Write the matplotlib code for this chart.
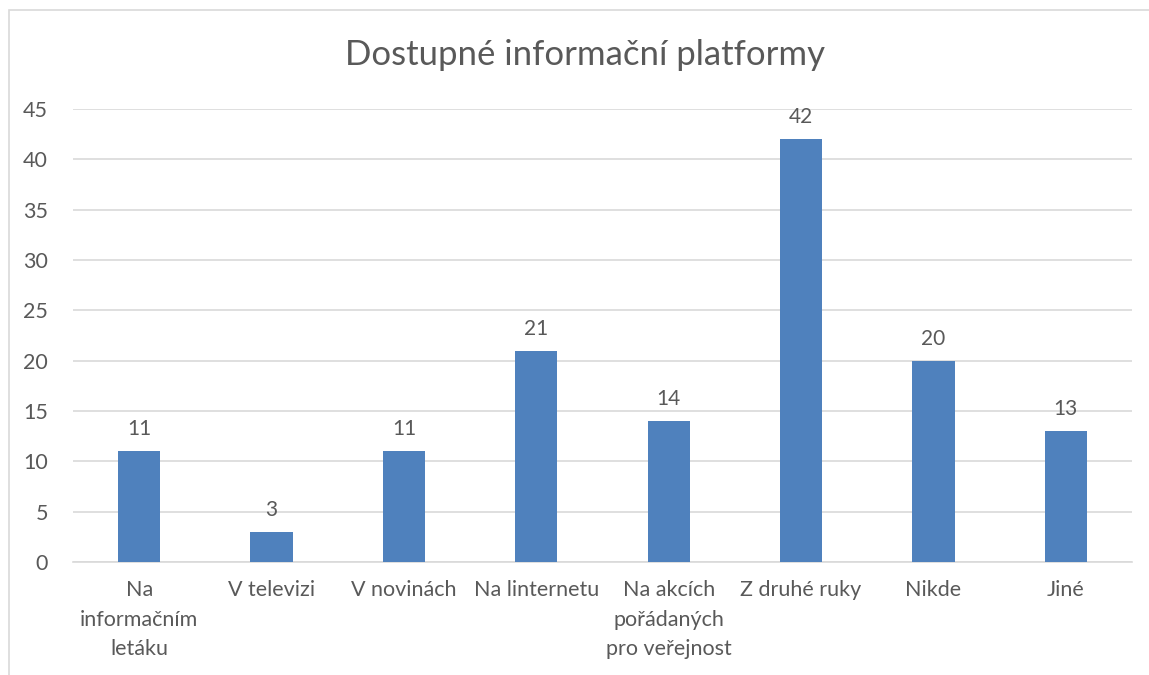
import matplotlib
matplotlib.use("Agg")
import matplotlib.pyplot as plt
from matplotlib.patches import Rectangle

categories = ["Na\ninformačním\nletáku", "V televizi", "V novinách", "Na linternetu",
              "Na akcích\npořádaných\npro veřejnost", "Z druhé ruky", "Nikde", "Jiné"]
values = [11, 3, 11, 21, 14, 42, 20, 13]

plt.rcParams['font.family'] = ['Lato', 'DejaVu Sans']
text_color = '#595959'
bar_color = '#4F81BD'

fig = plt.figure(figsize=(11.49, 6.75), dpi=100)
W, H = 1149, 675
ax = fig.add_axes([73 / W, 1 - 562 / H, (1132 - 73) / W, (562 - 109) / H])

x = list(range(len(categories)))
ax.bar(x, values, width=0.32, color=bar_color, zorder=3)
for xi, v in zip(x, values):
    ax.text(xi, v + 1.2, str(v), ha='center', va='bottom', fontsize=15, color=text_color)

ax.set_xlim(-0.5, len(categories) - 0.5)
ax.set_ylim(0, 45)
ax.set_yticks(range(0, 46, 5))
ax.grid(axis='y', color='#D9D9D9', linewidth=1.2, zorder=0)
ax.set_xticks(x)
ax.set_xticklabels(categories, fontsize=15.5, color=text_color, linespacing=1.6)
ax.tick_params(axis='y', labelsize=15.5, labelcolor=text_color, length=0, pad=18)
ax.tick_params(axis='x', length=0, pad=13)
for s in ['top', 'right', 'left']:
    ax.spines[s].set_visible(False)
ax.spines['bottom'].set_color('#D9D9D9')
ax.spines['bottom'].set_linewidth(1.2)

fig.text(585 / W, 1 - 55 / H, "Dostupné informační platformy", ha='center', va='center',
         fontsize=25, color=text_color)

# chart area border (cropped at right and bottom)
fig.patches.append(Rectangle((9 / W, -0.1), 1.2, 1 - 10 / H + 0.1, transform=fig.transFigure,
                             fill=False, edgecolor='#D9D9D9', linewidth=1.2))

fig.savefig("out.png", dpi=100)
